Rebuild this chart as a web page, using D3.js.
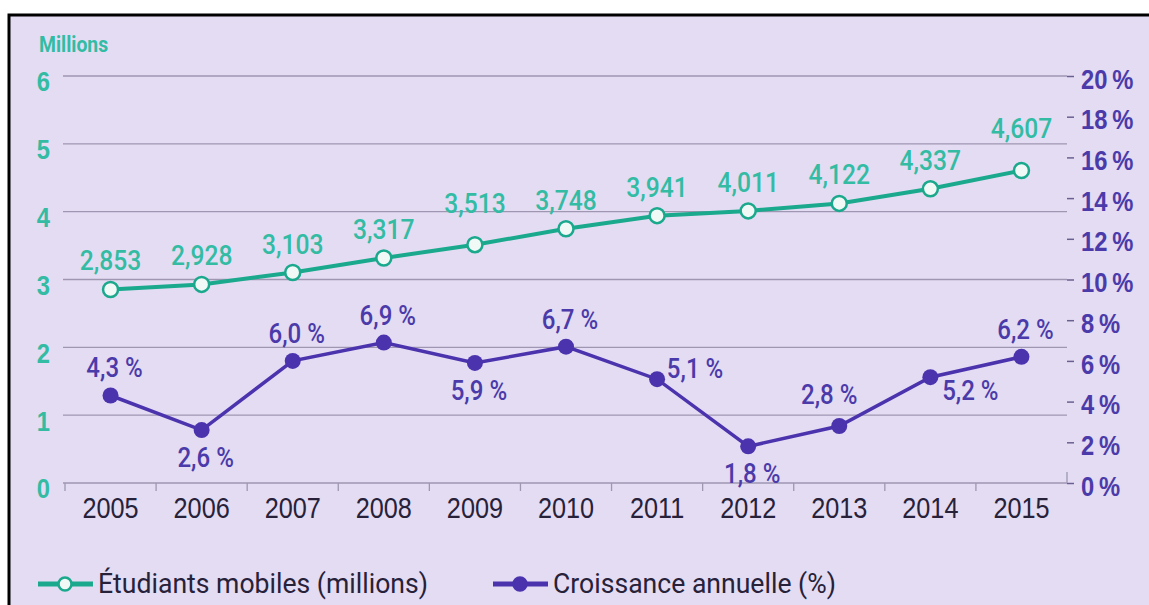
<!DOCTYPE html>
<html>
<head>
<meta charset="utf-8">
<script src="https://cdn.jsdelivr.net/npm/d3@7"></script>
<style>
  html, body { margin: 0; padding: 0; background: #ffffff; }
  svg { display: block; font-family: Roboto, "Noto Sans", sans-serif; }
</style>
</head>
<body>
<svg id="chart" width="1149" height="605"></svg>
<script>
"use strict";

// data
const years = ['2005', '2006', '2007', '2008', '2009', '2010', '2011', '2012', '2013', '2014', '2015'];
const students = [2.853, 2.928, 3.103, 3.317, 3.513, 3.748, 3.941, 4.011, 4.122, 4.337, 4.607];
const growth = [4.3, 2.6, 6.0, 6.9, 5.9, 6.7, 5.1, 1.8, 2.8, 5.2, 6.2];
const leftTicks = [0, 1, 2, 3, 4, 5, 6];
const rightTicks = [0, 2, 4, 6, 8, 10, 12, 14, 16, 18, 20];

// where each label sits relative to its point
const studentLabelPlace = ['n', 'n', 'n', 'n', 'nn', 'n', 'n', 'n', 'n', 'n', 'nn'];
const growthLabelPlace = ['n', 's', 'n', 'n', 's', 'n', 'e', 's', 'nw', 'se', 'n'];

const teal = '#1aa98d';
const tealText = '#33bca3';
const purple = '#4a33ad';
const purpleText = '#4b3aa9';
const dark = '#272139';
const grid = '#9f97b2';

(function () {
  let svg = d3.select('#chart');

  // squeeze text horizontally, the original uses a condensed face
  function condense(sel, sx) {
    sel.each(function () {
      let t = d3.select(this);
      let tx = +t.attr('x') || 0;
      let ty = +t.attr('y') || 0;
      t.attr('x', 0).attr('y', 0)
        .attr('transform', 'translate(' + tx + ',' + ty + ') scale(' + sx + ',1)');
    });
  }

  // background + frame
  svg.append('rect')
    .attr('x', 9).attr('y', 15)
    .attr('width', 1149).attr('height', 605)
    .style('fill', '#e3dcf3')
    .style('stroke', '#000')
    .style('stroke-width', 3);

  let x = d3.scaleBand().domain(years).range([65, 1067]);
  let yL = d3.scaleLinear().domain([0, 6]).range([483, 76]);
  let yR = d3.scaleLinear().domain([0, 20]).range([483, 76]);
  let cx = d => x(d) + x.bandwidth() / 2;

  // horizontal gridlines
  svg.selectAll('line.grid')
    .data(leftTicks)
    .enter()
    .append('line')
    .attr('class', 'grid')
    .attr('x1', 63).attr('x2', 1067)
    .attr('y1', d => yL(d)).attr('y2', d => yL(d))
    .style('stroke', grid)
    .style('stroke-width', 1.3);

  // left axis labels
  let left = svg.append('g')
    .attr('transform', 'translate(50,0)')
    .call(d3.axisLeft(yL).tickValues(leftTicks).tickSize(0).tickPadding(0).tickFormat(d3.format('d')))
    .call(g => g.select('.domain').remove());
  left.selectAll('text')
    .attr('dy', '0.55em')
    .style('font-size', '27px')
    .style('font-weight', 700)
    .style('fill', tealText)
    .call(condense, 0.88);

  svg.append('text')
    .attr('x', 39).attr('y', 52)
    .text('Millions')
    .style('font-size', '22px')
    .style('font-weight', 700)
    .style('fill', tealText)
    .call(condense, 0.88);

  // right axis
  let right = svg.append('g')
    .attr('transform', 'translate(1067,0)')
    .call(d3.axisRight(yR).tickValues(rightTicks).tickSize(0).tickPadding(14)
      .tickFormat(d => d + '\u2009%'))
    .call(g => g.select('.domain').remove());
  right.selectAll('.tick').append('line')
    .attr('x1', 0).attr('x2', 7)
    .style('stroke', '#6a6090')
    .style('stroke-width', 1.5);
  right.selectAll('.tick').filter(d => d === 0).select('line').remove();
  right.selectAll('text')
    .attr('dy', '0.45em')
    .style('font-size', '27px')
    .style('font-weight', 700)
    .style('fill', purpleText)
    .call(condense, 0.88);

  // x axis
  let xAxis = svg.append('g')
    .attr('transform', 'translate(0,483)')
    .call(d3.axisBottom(x).tickSize(0).tickPadding(35));
  xAxis.select('.domain').remove();
  xAxis.selectAll('text')
    .attr('dy', 0)
    .style('font-size', '29px')
    .style('fill', dark)
    .call(condense, 0.87);
  svg.selectAll('line.xtick')
    .data(years)
    .enter()
    .append('line')
    .attr('class', 'xtick')
    .attr('x1', d => x(d)).attr('x2', d => x(d))
    .attr('y1', 483).attr('y2', 491)
    .style('stroke', grid)
    .style('stroke-width', 1.3);
  svg.append('line')
    .attr('x1', 1067).attr('x2', 1067)
    .attr('y1', 472).attr('y2', 483)
    .style('stroke', grid)
    .style('stroke-width', 1.3);

  // students line
  let studentData = years.map((y, i) => ({ year: y, v: students[i], place: studentLabelPlace[i] }));
  svg.append('path')
    .datum(studentData)
    .attr('d', d3.line().x(d => cx(d.year)).y(d => yL(d.v)))
    .style('fill', 'none')
    .style('stroke', teal)
    .style('stroke-width', 4);
  svg.selectAll('circle.stud')
    .data(studentData)
    .enter()
    .append('circle')
    .attr('class', 'stud')
    .attr('cx', d => cx(d.year)).attr('cy', d => yL(d.v))
    .attr('r', 7.5)
    .style('fill', '#f1f9f6')
    .style('stroke', teal)
    .style('stroke-width', 2.5);
  svg.selectAll('text.stud')
    .data(studentData)
    .enter()
    .append('text')
    .attr('class', 'stud')
    .attr('x', d => cx(d.year))
    .attr('y', d => yL(d.v) - (d.place === 'nn' ? 32 : 19))
    .attr('text-anchor', 'middle')
    .text(d => d3.format('.3f')(d.v).replace('.', ','))
    .style('font-size', '28px')
    .style('font-weight', 500)
    .style('fill', tealText)
    .call(condense, 0.88);

  // growth line
  let growthData = years.map((y, i) => ({ year: y, v: growth[i], place: growthLabelPlace[i] }));
  svg.append('path')
    .datum(growthData)
    .attr('d', d3.line().x(d => cx(d.year)).y(d => yR(d.v)))
    .style('fill', 'none')
    .style('stroke', purple)
    .style('stroke-width', 3.5);
  svg.selectAll('circle.grow')
    .data(growthData)
    .enter()
    .append('circle')
    .attr('class', 'grow')
    .attr('cx', d => cx(d.year)).attr('cy', d => yR(d.v))
    .attr('r', 8)
    .style('fill', purple);

  let offsets = { n: [4, -18], s: [4, 37], e: [38, -1], nw: [-10, -22], se: [40, 23] };
  svg.selectAll('text.grow')
    .data(growthData)
    .enter()
    .append('text')
    .attr('class', 'grow')
    .attr('x', d => cx(d.year) + offsets[d.place][0])
    .attr('y', d => yR(d.v) + offsets[d.place][1])
    .attr('text-anchor', 'middle')
    .text(d => d3.format('.1f')(d.v).replace('.', ',') + ' %')
    .style('font-size', '28px')
    .style('font-weight', 500)
    .style('fill', purpleText)
    .call(condense, 0.86);

  // legend
  let legend = [
    { label: 'Étudiants mobiles (millions)', color: teal, x: 38, hollow: true },
    { label: 'Croissance annuelle (%)', color: purple, x: 493, hollow: false }
  ];
  let items = svg.selectAll('g.legend')
    .data(legend)
    .enter()
    .append('g')
    .attr('class', 'legend')
    .attr('transform', d => 'translate(' + d.x + ',584)');
  items.append('line')
    .attr('x1', 0).attr('x2', 55)
    .style('stroke', d => d.color)
    .style('stroke-width', 5);
  items.append('circle')
    .attr('cx', 27).attr('r', 6.5)
    .style('fill', d => d.hollow ? '#f1f9f6' : d.color)
    .style('stroke', d => d.color)
    .style('stroke-width', 2.5);
  items.append('text')
    .attr('x', 60).attr('y', 9)
    .text(d => d.label)
    .style('font-size', '28px')
    .style('fill', dark)
    .call(condense, 0.95);
})();
</script>
</body>
</html>
